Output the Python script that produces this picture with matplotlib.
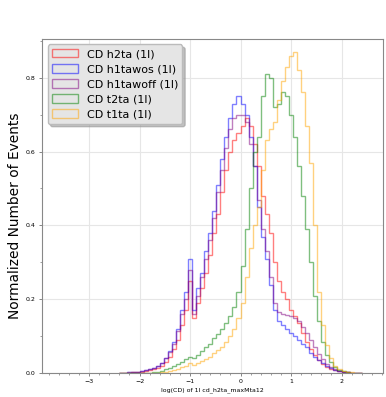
import numpy as np
import matplotlib
matplotlib.use("Agg")
import matplotlib.pyplot as plt
from matplotlib.ticker import AutoMinorLocator

# histogram binning (log(CD) axis)
bin_lo = -2.4
bin_w = 0.08
n_bins = 60

labels = ["CD h2ta (1l)", "CD h1tawos (1l)", "CD h1tawoff (1l)", "CD t2ta (1l)", "CD t1ta (1l)"]
colors = ["red", "blue", "purple", "green", "orange"]

# normalized bin contents
h2ta = [0, 0.001, 0.001, 0.002, 0.003, 0.004, 0.006, 0.008, 0.011, 0.015,
        0.02, 0.03, 0.045, 0.065, 0.09, 0.13, 0.17, 0.25, 0.15, 0.19,
        0.23, 0.27, 0.32, 0.38, 0.43, 0.49, 0.55, 0.60, 0.63, 0.65,
        0.67, 0.69, 0.67, 0.62, 0.56, 0.48, 0.43, 0.38, 0.30, 0.25,
        0.22, 0.20, 0.17, 0.155, 0.135, 0.11, 0.085, 0.065, 0.048, 0.035,
        0.025, 0.018, 0.012, 0.008, 0.005, 0.003, 0.002, 0.001, 0, 0]
h1tawos = [0, 0.001, 0.002, 0.003, 0.004, 0.006, 0.008, 0.011, 0.015, 0.02,
           0.028, 0.042, 0.06, 0.085, 0.12, 0.17, 0.22, 0.31, 0.17, 0.23,
           0.27, 0.33, 0.38, 0.44, 0.51, 0.58, 0.64, 0.69, 0.73, 0.75,
           0.73, 0.70, 0.64, 0.56, 0.45, 0.37, 0.31, 0.24, 0.17, 0.14,
           0.13, 0.12, 0.11, 0.10, 0.09, 0.08, 0.07, 0.055, 0.045, 0.035,
           0.027, 0.02, 0.014, 0.009, 0.006, 0.004, 0.002, 0.001, 0.0005, 0]
h1tawoff = [0, 0.001, 0.002, 0.003, 0.004, 0.006, 0.008, 0.011, 0.015, 0.02,
            0.027, 0.04, 0.057, 0.08, 0.115, 0.16, 0.2, 0.28, 0.16, 0.21,
            0.26, 0.31, 0.36, 0.42, 0.49, 0.55, 0.61, 0.66, 0.69, 0.70,
            0.70, 0.68, 0.62, 0.56, 0.47, 0.39, 0.33, 0.26, 0.19, 0.165,
            0.16, 0.158, 0.155, 0.15, 0.14, 0.125, 0.11, 0.09, 0.07, 0.052,
            0.038, 0.026, 0.017, 0.011, 0.007, 0.004, 0.002, 0.001, 0.0005, 0]
t2ta = [0, 0, 0, 0, 0, 0, 0, 0.001, 0.002, 0.004,
        0.006, 0.01, 0.014, 0.02, 0.025, 0.03, 0.038, 0.045, 0.04, 0.05,
        0.06, 0.07, 0.08, 0.095, 0.105, 0.12, 0.135, 0.155, 0.18, 0.22,
        0.29, 0.39, 0.50, 0.60, 0.64, 0.75, 0.81, 0.80, 0.72, 0.73,
        0.76, 0.75, 0.70, 0.64, 0.56, 0.48, 0.39, 0.30, 0.21, 0.14,
        0.085, 0.05, 0.03, 0.017, 0.009, 0.005, 0.003, 0.001, 0, 0]
t1ta = [0, 0, 0, 0, 0, 0, 0, 0, 0, 0.001,
        0.002, 0.004, 0.006, 0.009, 0.012, 0.016, 0.02, 0.027, 0.022, 0.027,
        0.032, 0.038, 0.045, 0.054, 0.062, 0.072, 0.085, 0.10, 0.12, 0.15,
        0.19, 0.26, 0.34, 0.40, 0.45, 0.55, 0.63, 0.66, 0.68, 0.74,
        0.79, 0.83, 0.86, 0.87, 0.82, 0.76, 0.67, 0.57, 0.40, 0.22,
        0.13, 0.075, 0.04, 0.02, 0.01, 0.006, 0.003, 0.002, 0.001, 0]

series = [h2ta, h1tawos, h1tawoff, t2ta, t1ta]

edges = bin_lo + bin_w * np.arange(n_bins + 1)
centers = 0.5 * (edges[:-1] + edges[1:])

fig = plt.figure(figsize=(3.86, 3.97), dpi=100)
ax = fig.add_axes([0.109, 0.060, 0.883, 0.842])

for vals, col, lab in zip(series, colors, labels):
    ax.hist(centers, bins=edges, weights=vals, histtype="step",
            color=col, alpha=0.5, linewidth=1.0, label=lab)

ax.set_xlim(-3.93, 2.82)
ax.set_ylim(0, 0.905)
ax.set_yticks([0.0, 0.2, 0.4, 0.6, 0.8])
ax.xaxis.set_minor_locator(AutoMinorLocator(5))
ax.yaxis.set_minor_locator(AutoMinorLocator(2))
ax.tick_params(which="major", labelsize=4.5, length=2.5, width=0.5, color="#555555", pad=2)
ax.tick_params(which="minor", length=1.5, width=0.4, color="#555555")
ax.grid(True, which="major", color="#e6e6e6", linewidth=0.8)
ax.set_axisbelow(True)
for sp in ax.spines.values():
    sp.set_color("#888888")
    sp.set_linewidth(0.8)

ax.set_xlabel("log(CD) of 1l cd_h2ta_maxMta12", fontsize=4.5, labelpad=2)
ax.set_ylabel("Normalized Number of Events", fontsize=9.9)
ax.yaxis.set_label_coords(-0.058, 0.47)

leg = ax.legend(loc="upper left", fontsize=8, frameon=True, fancybox=True,
                shadow={"color": "#999999", "alpha": 0.6},
                handlelength=2.3, handleheight=0.8, labelspacing=0.45,
                borderaxespad=0.5, handletextpad=0.8)
leg.get_frame().set_facecolor("#e5e5e5")
leg.get_frame().set_edgecolor("#bbbbbb")
leg.get_frame().set_alpha(1.0)

fig.savefig("out.png", dpi=100)
